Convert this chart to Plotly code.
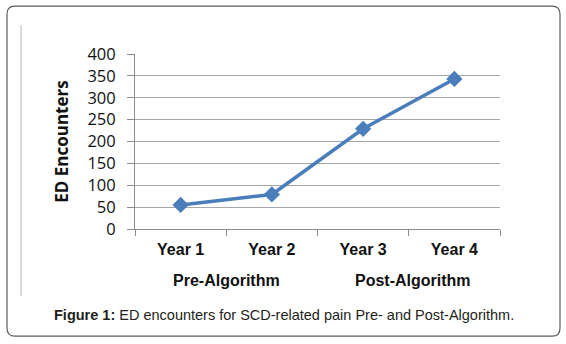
import plotly.graph_objects as go

years = ["Year 1", "Year 2", "Year 3", "Year 4"]
encounters = [55, 79, 229, 343]
y_ticks = [0, 50, 100, 150, 200, 250, 300, 350, 400]
group_labels = ["Pre-Algorithm", "Post-Algorithm"]
caption_bold = "Figure 1:"
caption_text = " ED encounters for SCD-related pain Pre- and Post-Algorithm."

fig = go.Figure()
fig.add_trace(go.Scatter(
    x=years, y=encounters, mode="lines+markers",
    line=dict(color="#4A7EBB", width=3.5),
    marker=dict(symbol="diamond", size=12.5, color="#4A7EBB"),
    showlegend=False, cliponaxis=False,
))

W, H = 566, 344
L, R, T, B = 135, 500, 54, 229.5
fig.update_layout(
    width=W, height=H,
    margin=dict(l=L, r=W - R, t=T, b=H - B, pad=0),
    paper_bgcolor="white", plot_bgcolor="white",
    xaxis=dict(
        type="category", tickson="boundaries", range=[-0.5, 3.5],
        showgrid=False, showline=True, linecolor="#8c8c8c", linewidth=1,
        ticks="outside", ticklen=6, tickcolor="#8c8c8c",
        tickfont=dict(family="Liberation Sans", size=16, color="#111", weight="bold"),
        ticklabelstandoff=6,
    ),
    yaxis=dict(
        range=[0, 400], tickvals=y_ticks,
        showgrid=True, gridcolor="#a6a6a6", gridwidth=1,
        showline=True, linecolor="#8c8c8c", linewidth=1,
        ticks="outside", ticklen=7, tickcolor="#8c8c8c",
        tickfont=dict(family="Open Sans", size=16.5, color="#111"),
        ticklabelstandoff=8,
        zeroline=False,
        title=dict(text="<b>ED Encounters</b>", font=dict(family="Open Sans", size=17, color="#111"), standoff=14),
    ),
    font=dict(family="Liberation Sans"),
)


def px(xp):
    return (xp - L) / (R - L)


def py(yp):
    return 1 - (yp - T) / (B - T)


# group labels centered between pairs of categories
fig.add_annotation(x=0.5, y=py(281), xref="x", yref="paper", text="<b>" + group_labels[0] + "</b>",
                   xanchor="center", yanchor="middle",
                   showarrow=False, font=dict(family="Liberation Sans", size=16, color="#111"))
fig.add_annotation(x=2.55, y=py(281), xref="x", yref="paper", text="<b>" + group_labels[1] + "</b>",
                   xanchor="center", yanchor="middle",
                   showarrow=False, font=dict(family="Liberation Sans", size=16, color="#111"))

fig.add_annotation(x=px(283.5), y=py(316), xref="paper", yref="paper",
                   xanchor="center", yanchor="middle",
                   text="<b>" + caption_bold + "</b>" + caption_text,
                   showarrow=False, font=dict(family="Liberation Sans", size=14.5, color="#231f20"))

# outer rounded frame and inner chart-area left edge
x0, x1, y0, y1, r = 7, 560, 6, 337, 8
path = (f"M {px(x0 + r)},{py(y0)} L {px(x1 - r)},{py(y0)} "
        f"Q {px(x1)},{py(y0)} {px(x1)},{py(y0 + r)} L {px(x1)},{py(y1 - r)} "
        f"Q {px(x1)},{py(y1)} {px(x1 - r)},{py(y1)} L {px(x0 + r)},{py(y1)} "
        f"Q {px(x0)},{py(y1)} {px(x0)},{py(y1 - r)} L {px(x0)},{py(y0 + r)} "
        f"Q {px(x0)},{py(y0)} {px(x0 + r)},{py(y0)} Z")
fig.add_shape(type="path", path=path, xref="paper", yref="paper",
              line=dict(color="#5a5a5a", width=1.2), layer="below")
fig.add_shape(type="line", x0=px(21), x1=px(21), y0=py(25), y1=py(297),
              xref="paper", yref="paper", line=dict(color="#b5b5b5", width=1))

fig.write_html("out.html")
